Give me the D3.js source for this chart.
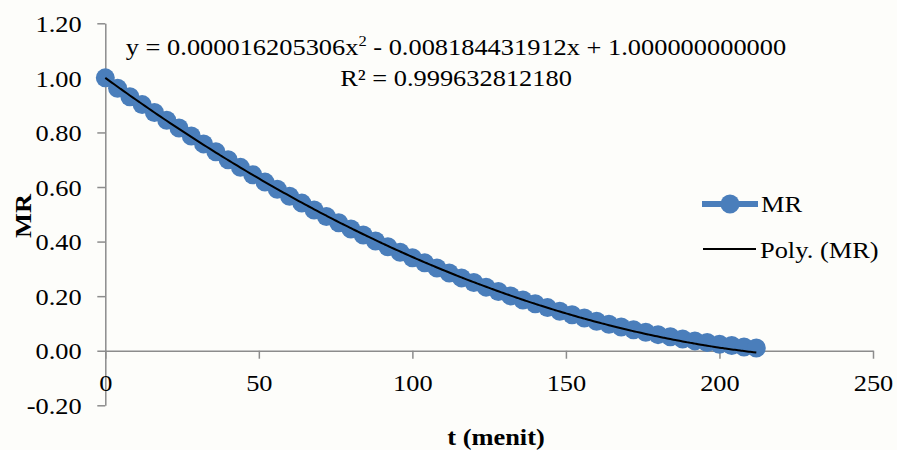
<!DOCTYPE html>
<html>
<head>
<meta charset="utf-8">
<script src="https://cdn.jsdelivr.net/npm/d3@7"></script>
<style>
  html, body { margin: 0; padding: 0; background: #fdfdfa; }
  svg { display: block; }
  text { font-family: "Liberation Serif", "Times New Roman", serif; fill: #000; }
</style>
</head>
<body>
<svg id="chart" width="897" height="450"></svg>
<script>
// ---- data ----
const times = [0,4,8,12,16,20,24,28,32,36,40,44,48,52,56,60,64,68,72,76,80,84,88,92,96,100,
  104,108,112,116,120,124,128,132,136,140,144,148,152,156,160,164,168,172,176,180,184,188,192,196,200,204,208,212];
const mrValues = [1.000,0.962,0.931,0.902,0.873,0.845,0.816,0.787,0.758,0.729,0.700,0.672,0.645,0.618,0.592,0.566,0.541,0.516,0.492,0.469,0.446,0.424,0.402,0.381,0.361,0.341,
  0.322,0.303,0.285,0.267,0.250,0.233,0.217,0.201,0.186,0.172,0.158,0.145,0.132,0.120,0.108,0.097,0.087,0.077,0.068,0.059,0.051,0.043,0.036,0.030,0.024,0.019,0.014,0.010];
const polyCoefs = [1.000000000000, -0.008184431912, 0.000016205306]; // c0, c1, c2
const xTicks = [0,50,100,150,200,250];
const yTicks = [-0.2,0,0.2,0.4,0.6,0.8,1.0,1.2];
const eqText1a = "y = 0.000016205306x";
const eqText1b = "2";
const eqText1c = " - 0.008184431912x + 1.000000000000";
const eqText2 = "R² = 0.999632812180";
const legendLabels = ["MR", "Poly. (MR)"];
const xTitle = "t (menit)";
const yTitle = "MR";

// ---- chart ----
const svg = d3.select("#chart");
const SX = 1.1; // horizontal stretch of the text in the reference
const blue = "#4a7ebb";
const axisCol = "#8c8c8c";

const x = d3.scaleLinear().domain([0, 250]).range([105.3, 873]);
const y = d3.scaleLinear().domain([-0.2, 1.2]).range([405.3, 23.3]);

// y axis
const yAxis = svg.append("g").attr("transform", `translate(${x(0)},0)`)
  .call(d3.axisLeft(y).tickValues(yTicks).tickSize(8).tickSizeOuter(0)
    .tickFormat(v => v.toFixed(2)));
yAxis.select(".domain").attr("stroke", axisCol).attr("stroke-width", 1.5);
yAxis.selectAll(".tick line").attr("stroke", axisCol).attr("stroke-width", 1.5);
yAxis.selectAll(".tick text")
  .attr("x", null).attr("dy", "0.34em")
  .attr("transform", `translate(-23.6,0) scale(${SX},1)`)
  .attr("font-family", "Liberation Serif").attr("font-size", 24)
  .attr("fill", "#000");

// x axis at y = 0
const xAxis = svg.append("g").attr("transform", `translate(0,${y(0)})`)
  .call(d3.axisBottom(x).tickValues(xTicks).tickSize(8).tickSizeOuter(0)
    .tickFormat(d3.format("d")));
xAxis.select(".domain").attr("stroke", axisCol).attr("stroke-width", 1.5);
xAxis.selectAll(".tick line").attr("stroke", axisCol).attr("stroke-width", 1.5);
xAxis.selectAll(".tick text")
  .attr("y", null).attr("dy", null)
  .attr("transform", `translate(0,40) scale(${SX},1)`)
  .attr("font-family", "Liberation Serif").attr("font-size", 24)
  .attr("fill", "#000");

// series line + markers
const pts = times.map((t, i) => [t, mrValues[i]]);
svg.append("path").datum(pts)
  .attr("fill", "none").attr("stroke", blue).attr("stroke-width", 6)
  .attr("stroke-linejoin", "round")
  .attr("d", d3.line().x(d => x(d[0])).y(d => y(d[1])));
svg.append("g").selectAll("circle").data(pts).join("circle")
  .attr("cx", d => x(d[0])).attr("cy", d => y(d[1])).attr("r", 9.5)
  .attr("fill", blue);

// polynomial trendline
const tMax = times[times.length - 1];
const polyPts = d3.range(0, tMax + 0.5, 1).map(t => [t, polyCoefs[0] + polyCoefs[1]*t + polyCoefs[2]*t*t]);
svg.append("path").datum(polyPts)
  .attr("fill", "none").attr("stroke", "#000").attr("stroke-width", 2)
  .attr("d", d3.line().x(d => x(d[0])).y(d => y(d[1])).curve(d3.curveMonotoneX));

// equation
const eq = svg.append("text")
  .attr("transform", `translate(456,55) scale(${SX},1)`)
  .attr("text-anchor", "middle").attr("font-size", 24);
eq.append("tspan").text(eqText1a);
eq.append("tspan").text(eqText1b).attr("font-size", 15).attr("dy", -9);
eq.append("tspan").text(eqText1c).attr("dy", 9);
svg.append("text")
  .attr("transform", `translate(456,86) scale(${SX},1)`)
  .attr("text-anchor", "middle").attr("font-size", 24).text(eqText2);

// legend
const lg = svg.append("g");
lg.append("line").attr("x1", 702).attr("x2", 758).attr("y1", 204).attr("y2", 204)
  .attr("stroke", blue).attr("stroke-width", 6);
lg.append("circle").attr("cx", 730).attr("cy", 204).attr("r", 9.5).attr("fill", blue);
lg.append("text").attr("transform", `translate(761,212) scale(${SX},1)`)
  .attr("font-size", 24).text(legendLabels[0]);
lg.append("line").attr("x1", 703).attr("x2", 756).attr("y1", 249).attr("y2", 249)
  .attr("stroke", "#000").attr("stroke-width", 2);
lg.append("text").attr("transform", `translate(760,258) scale(${SX},1)`)
  .attr("font-size", 24).text(legendLabels[1]);

// axis titles
svg.append("text").attr("transform", `translate(496,445) scale(${SX},1)`)
  .attr("text-anchor", "middle").attr("font-size", 24).attr("font-weight", "bold").text(xTitle);
svg.append("text").attr("transform", `translate(31,216) rotate(-90) scale(${SX},1)`)
  .attr("text-anchor", "middle").attr("font-size", 24).attr("font-weight", "bold").text(yTitle);
</script>
</body>
</html>
